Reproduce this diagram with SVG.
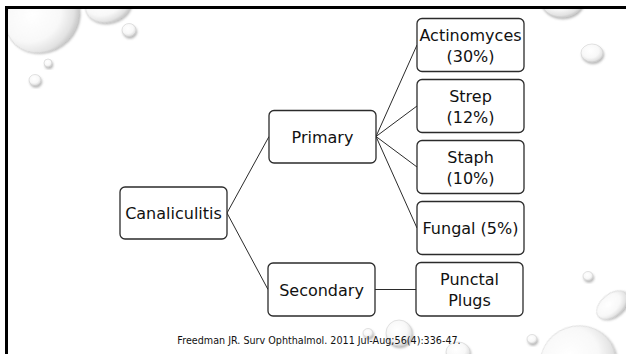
<svg xmlns="http://www.w3.org/2000/svg" width="626" height="354" viewBox="0 0 626 354">
  <defs>
    <radialGradient id="dropFill" cx="42%" cy="38%" r="65%">
      <stop offset="0" stop-color="#ffffff"/>
      <stop offset="0.6" stop-color="#f8f8f8"/>
      <stop offset="0.88" stop-color="#e2e2e2"/>
      <stop offset="1" stop-color="#c8c8c8"/>
    </radialGradient>
    <filter id="dropShadow" x="-30%" y="-30%" width="160%" height="160%">
      <feDropShadow dx="1" dy="2" stdDeviation="1.3" flood-color="#666" flood-opacity="0.45"/>
    </filter>
    <clipPath id="frameClip">
      <rect x="8" y="9" width="618" height="345"/>
    </clipPath>
  </defs>
  <style>
    .drop { fill: url(#dropFill); stroke: #d0d0d0; stroke-width: 0.6; filter: url(#dropShadow); }
    .node rect { fill: #ffffff; stroke: #2b2b2b; stroke-width: 1.3; }
    .node text { font-family: "DejaVu Sans", sans-serif; font-size: 16px; fill: #111; text-anchor: middle; }
    .conn line { stroke: #2b2b2b; stroke-width: 1; }
    .cite { font-family: "DejaVu Sans", sans-serif; font-size: 9.6px; fill: #111; text-anchor: middle; }
  </style>

  <rect width="626" height="354" fill="#ffffff"/>

  <!-- water droplets decoration -->
  <g id="droplets" clip-path="url(#frameClip)">
    <ellipse class="drop" cx="42" cy="18" rx="38" ry="33" transform="rotate(-35 42 18)"/>
    <ellipse class="drop" cx="108" cy="5" rx="23" ry="17" transform="rotate(-15 108 5)"/>
    <ellipse class="drop" cx="129" cy="30" rx="7" ry="6.5"/>
    <ellipse class="drop" cx="48" cy="63" rx="4" ry="4"/>
    <ellipse class="drop" cx="35" cy="80" rx="6" ry="5.5"/>
    <ellipse class="drop" cx="562" cy="1" rx="21" ry="16"/>
    <ellipse class="drop" cx="592" cy="53" rx="11" ry="9"/>
    <ellipse class="drop" cx="588" cy="276" rx="5" ry="4.5"/>
    <ellipse class="drop" cx="612" cy="305" rx="18" ry="11" transform="rotate(-40 612 305)"/>
    <ellipse class="drop" cx="578" cy="362" rx="38" ry="36" transform="rotate(-20 578 362)"/>
    <ellipse class="drop" cx="532" cy="339" rx="5" ry="4.5"/>
    <ellipse class="drop" cx="368" cy="333" rx="5" ry="4.5"/>
    <ellipse class="drop" cx="399" cy="333" rx="13" ry="13"/>
    <ellipse class="drop" cx="458" cy="352" rx="12" ry="10"/>
  </g>

  <!-- frame edges -->
  <g id="frame">
    <rect x="5" y="6" width="621" height="3" fill="#000"/>
    <rect x="5" y="6" width="3" height="348" fill="#000"/>
  </g>

  <!-- connectors -->
  <g id="connectors" class="conn">
    <line x1="227" y1="213" x2="269" y2="136.5"/>
    <line x1="227" y1="213" x2="268" y2="289.5"/>
    <line x1="376" y1="136.5" x2="417" y2="45"/>
    <line x1="376" y1="136.5" x2="417" y2="106"/>
    <line x1="376" y1="136.5" x2="417" y2="167"/>
    <line x1="376" y1="136.5" x2="417" y2="228"/>
    <line x1="375" y1="289.5" x2="416" y2="289.5"/>
  </g>

  <!-- nodes -->
  <g id="canaliculitis" class="node">
    <rect x="120" y="187" width="107" height="52" rx="5"/>
    <text x="173.5" y="219">Canaliculitis</text>
  </g>
  <g id="primary" class="node">
    <rect x="269" y="110.5" width="107" height="52.5" rx="5"/>
    <text x="322.5" y="143">Primary</text>
  </g>
  <g id="secondary" class="node">
    <rect x="268" y="263" width="107" height="53" rx="5"/>
    <text x="321.5" y="296">Secondary</text>
  </g>
  <g id="actinomyces" class="node">
    <rect x="417" y="18.5" width="107" height="53" rx="5"/>
    <text x="470.5" y="41">Actinomyces</text>
    <text x="470.5" y="62">(30%)</text>
  </g>
  <g id="strep" class="node">
    <rect x="417" y="79.5" width="107" height="53" rx="5"/>
    <text x="470.5" y="102">Strep</text>
    <text x="470.5" y="123">(12%)</text>
  </g>
  <g id="staph" class="node">
    <rect x="417" y="140.5" width="107" height="53" rx="5"/>
    <text x="470.5" y="163">Staph</text>
    <text x="470.5" y="184">(10%)</text>
  </g>
  <g id="fungal" class="node">
    <rect x="417" y="201.5" width="107" height="53" rx="5"/>
    <text x="470.5" y="234">Fungal (5%)</text>
  </g>
  <g id="punctal-plugs" class="node">
    <rect x="416" y="262.5" width="107" height="53.5" rx="5"/>
    <text x="469.5" y="285">Punctal</text>
    <text x="469.5" y="306">Plugs</text>
  </g>

  <text class="cite" x="319" y="344">Freedman JR. Surv Ophthalmol. 2011 Jul-Aug;56(4):336-47.</text>
</svg>
